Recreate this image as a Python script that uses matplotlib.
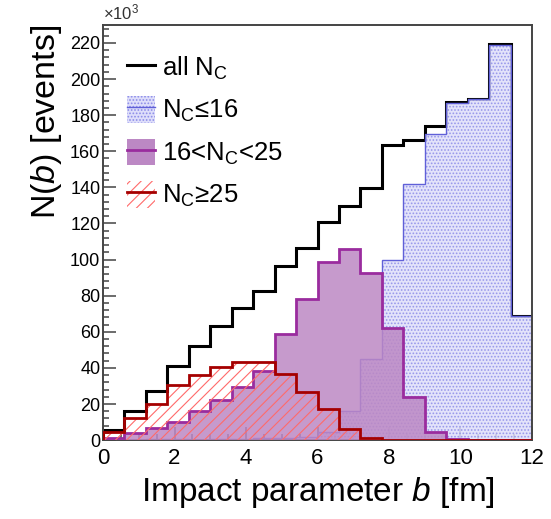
import numpy as np
import matplotlib
matplotlib.use("Agg")
import matplotlib.pyplot as plt
from matplotlib.patches import Patch
from matplotlib.lines import Line2D
from matplotlib.ticker import MultipleLocator

matplotlib.rcParams.update({
    'font.family': ['Liberation Sans', 'DejaVu Sans'],
    'mathtext.fontset': 'custom',
    'mathtext.rm': 'Liberation Sans',
    'mathtext.it': 'Liberation Sans:italic',
    'hatch.linewidth': 0.8,
})

# impact parameter bins [fm], 0.6 fm wide
b_edges = np.linspace(0, 12, 21)

# counts in units of 10^3 events
all_nc = [5.6, 16.3, 27.2, 41.3, 52.4, 63.0, 73.1, 82.8, 96.3, 106.5,
          120.7, 129.6, 139.4, 163.3, 166.1, 174.0, 187.4, 189.0, 219.4, 68.9]
nc_le16 = [0.1, 0.2, 0.5, 0.5, 0.1, 0.4, 0.7, 1.4, 0.9, 1.9,
           4.3, 16.1, 44.8, 100.0, 141.7, 169.4, 187.0, 189.0, 219.0, 68.9]
nc_16_25 = [0.9, 3.7, 6.7, 10.2, 16.1, 22.2, 29.3, 38.3, 58.7, 78.1,
            98.5, 106.1, 92.6, 62.0, 24.0, 4.3, 0.5, 0, 0, 0]
nc_ge25 = [4.6, 12.4, 20.0, 30.6, 36.3, 40.4, 43.1, 43.1, 36.7, 26.5,
           17.2, 6.3, 0.9, 0, 0, 0, 0, 0, 0, 0]

labels = [r'all N$_{\rm C}$', r'N$_{\rm C}$≤16', r'16<N$_{\rm C}$<25', r'N$_{\rm C}$≥25']

blue_face = '#dedefa'
blue_hatch = '#8c8ce8'
blue_line = '#6060d8'
purple_face = '#bc88c4'
purple_line = '#9a2c9e'
red_hatch = '#ff6a6a'
red_line = '#a50000'

fig = plt.figure(figsize=(5.51, 5.19), dpi=100)
ax = fig.add_axes([0.187, 0.152, 0.7785, 0.8])

# black total first, fills go over it like in the original
ax.stairs(all_nc, b_edges, color='black', lw=2.2, zorder=1)

ax.stairs(nc_le16, b_edges, fill=True, facecolor=blue_face, edgecolor=blue_hatch,
          hatch='.....', lw=0, alpha=0.85, zorder=2)
ax.stairs(nc_le16, b_edges, color=blue_line, lw=1.0, zorder=2.5)

ax.stairs(nc_16_25, b_edges, fill=True, facecolor=purple_face, edgecolor=purple_face,
          lw=0, alpha=0.85, zorder=3)
ax.stairs(nc_16_25, b_edges, color=purple_line, lw=2.0, zorder=3.5)

ax.stairs(nc_ge25, b_edges, fill=True, facecolor='none', edgecolor=red_hatch,
          hatch='///', lw=0, zorder=4)
ax.stairs(nc_ge25, b_edges, color=red_line, lw=2.0, zorder=4.5)

ax.set_xlim(0, 12)
ax.set_ylim(0, 230)

ax.xaxis.set_major_locator(MultipleLocator(2))
ax.xaxis.set_minor_locator(MultipleLocator(0.5))
ax.yaxis.set_major_locator(MultipleLocator(20))
ax.yaxis.set_minor_locator(MultipleLocator(4))
ax.tick_params(which='both', direction='in', top=False, right=False, color='#444444', width=1.1)
ax.tick_params(which='major', length=9.5)
ax.tick_params(which='minor', length=4.5)
ax.tick_params(axis='x', labelsize=16, pad=6)
ax.tick_params(axis='y', labelsize=13, pad=2)
for s in ax.spines.values():
    s.set_color('#444444')
    s.set_linewidth(1.4)

ax.set_xlabel(r'Impact parameter $b$ [fm]', fontsize=24, labelpad=4)
ax.set_ylabel(r'N($b$) [events]', fontsize=24.5, loc='top', labelpad=4)
ax.text(0.0, 1.005, r'$\times$10$^{3}$', transform=ax.transAxes, fontsize=12,
        ha='left', va='bottom', color='#333333')

handles = [
    Line2D([], [], color='black', lw=2.2),
    (Patch(facecolor=blue_face, edgecolor=blue_hatch, hatch='.....', lw=0),
     Line2D([], [], color=blue_line, lw=1.0)),
    (Patch(facecolor=purple_face, lw=0),
     Line2D([], [], color=purple_line, lw=2.0)),
    (Patch(facecolor='none', edgecolor=red_hatch, hatch='///', lw=0),
     Line2D([], [], color=red_line, lw=2.0)),
]
ax.legend(handles, labels, loc='upper left', bbox_to_anchor=(0.056, 0.93),
          frameon=False, fontsize=18.5, handlelength=1.09, handleheight=1.2,
          handletextpad=0.26, labelspacing=0.56, borderpad=0, borderaxespad=0)

fig.savefig('out.png', dpi=100)
